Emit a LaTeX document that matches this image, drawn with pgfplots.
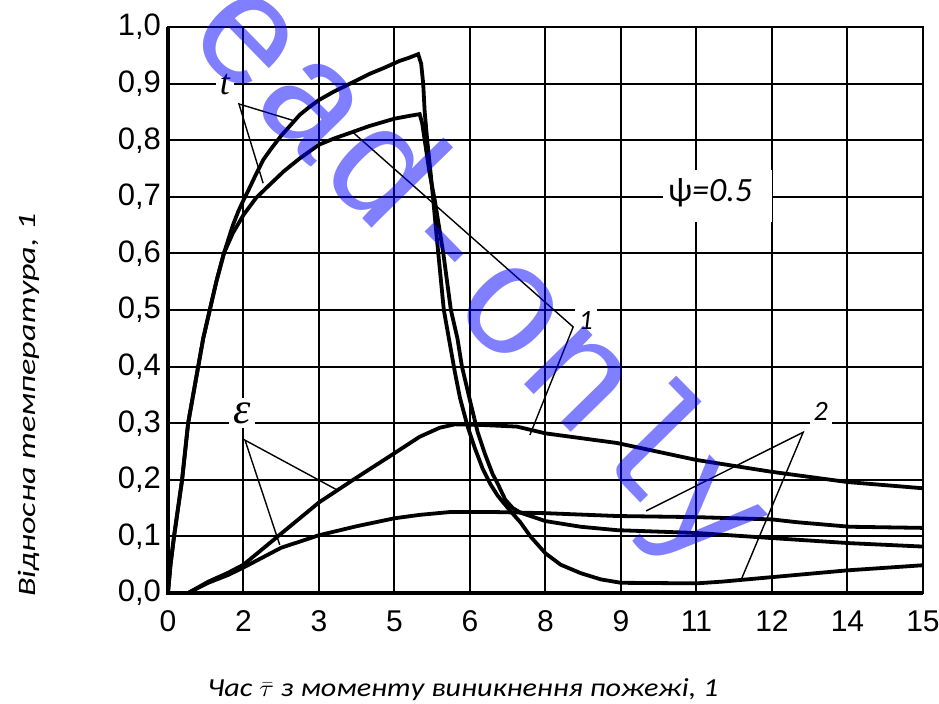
\documentclass[border=0pt]{standalone}
\usepackage{fontspec}
\setmainfont{Liberation Sans}
\newfontfamily\carlito{Carlito}
\newfontfamily\lserif{Liberation Serif}
\newfontfamily\lmono{Liberation Mono}
\usepackage{graphicx}
\usepackage{pgfplots}
\pgfplotsset{compat=1.18}

\begin{document}
\begin{tikzpicture}
\useasboundingbox (-84pt,-55.5pt) rectangle (385.5pt,296.5pt);
\begin{axis}[
  at={(0,0)}, anchor=south west,
  scale only axis, width=377.5pt, height=283pt,
  xmin=0, xmax=15, ymin=0, ymax=1,
  xtick={0,1.5,3,4.5,6,7.5,9,10.5,12,13.5,15},
  xticklabels={0,2,3,5,6,8,9,11,12,14,15},
  ytick={0,0.1,0.2,0.3,0.4,0.5,0.6,0.7,0.8,0.9,1},
  yticklabels={{0,0},{0,1},{0,2},{0,3},{0,4},{0,5},{0,6},{0,7},{0,8},{0,9},{1,0}},
  grid=major,
  major grid style={line width=1pt, black},
  major tick length=0pt,
  axis line style={line width=1.2pt},
  xticklabel style={font=\fontsize{15}{15}\selectfont, yshift=-5.5pt},
  yticklabel style={font=\fontsize{15.5}{15.5}\selectfont},
  clip mode=individual,
]
% t curve with peak 0.95 (set 2)
\addplot[black, line width=1.9pt] coordinates {
(0,0) (0.05,0.05) (0.12,0.1) (0.2,0.15) (0.28,0.2) (0.34,0.25) (0.4,0.3) (0.5,0.35) (0.6,0.4) (0.7,0.45) (0.83,0.5) (0.96,0.55) (1.11,0.6) (1.29,0.65) (1.4,0.675) (1.5,0.694) (1.6,0.712) (1.75,0.74) (1.89,0.765) (2.05,0.785) (2.25,0.808) (2.45,0.828) (2.62,0.845) (2.8,0.858) (3.0,0.871) (3.3,0.886) (3.62,0.90) (4.0,0.917) (4.3,0.928) (4.6,0.94) (4.8,0.946) (4.97,0.952) (5.03,0.935) (5.07,0.9) (5.1,0.85) (5.15,0.8) (5.22,0.74) (5.27,0.694) (5.37,0.6) (5.48,0.5) (5.6,0.44) (5.7,0.39) (5.8,0.345) (5.95,0.295) (6.1,0.255) (6.25,0.22) (6.4,0.193) (6.55,0.172) (6.66,0.16) (6.85,0.14) (7.0,0.125) (7.2,0.1) (7.5,0.07) (7.8,0.05) (8.2,0.035) (8.6,0.024) (9.0,0.018) (10.5,0.017) (11.0,0.02) (12.0,0.028) (13.5,0.04) (15,0.049)};
% t curve with peak 0.85 (set 1)
\addplot[black, line width=1.9pt] coordinates {
(0,0) (0.05,0.05) (0.12,0.1) (0.2,0.15) (0.28,0.2) (0.34,0.25) (0.4,0.3) (0.5,0.35) (0.6,0.4) (0.7,0.45) (0.83,0.5) (0.96,0.55) (1.11,0.6) (1.29,0.636) (1.5,0.668) (1.75,0.698) (1.97,0.717) (2.3,0.745) (2.62,0.768) (3.0,0.792) (3.3,0.803) (3.62,0.813) (4.0,0.825) (4.5,0.838) (4.8,0.843) (5.0,0.846) (5.05,0.83) (5.1,0.8) (5.2,0.74) (5.3,0.694) (5.47,0.6) (5.62,0.5) (5.75,0.45) (5.84,0.4) (6.0,0.34) (6.15,0.285) (6.3,0.245) (6.45,0.21) (6.54,0.195) (6.7,0.165) (6.85,0.15) (7.0,0.142) (7.5,0.127) (8.2,0.117) (8.92,0.111) (10.5,0.106) (12,0.097) (13.55,0.088) (15,0.082)};
% epsilon curve with peak 0.3 (set 1)
\addplot[black, line width=1.9pt] coordinates {
(0,0) (0.4,0) (0.8,0.02) (1.2,0.036) (1.5,0.05) (2.25,0.105) (3.0,0.16) (3.68,0.2) (4.5,0.247) (5.0,0.276) (5.4,0.292) (5.7,0.298) (6.2,0.297) (6.93,0.294) (7.5,0.282) (8.92,0.265) (10.5,0.235) (12,0.214) (13.5,0.196) (15,0.185)};
% epsilon curve with peak 0.14 (set 2)
\addplot[black, line width=1.9pt] coordinates {
(0,0) (0.4,0) (0.8,0.018) (1.2,0.032) (1.5,0.045) (2.25,0.08) (3.0,0.102) (3.75,0.118) (4.5,0.132) (5.0,0.138) (5.6,0.143) (6.5,0.143) (7.5,0.141) (8.92,0.136) (10.5,0.134) (12,0.13) (12.5,0.125) (13.55,0.117) (15,0.115)};
% leader lines
\addplot[black, line width=0.7pt] coordinates {(1.89,0.724) (1.41,0.864) (2.48,0.835)};
\addplot[black, line width=0.7pt] coordinates {(3.66,0.815) (8.05,0.47) (7.19,0.279)};
\addplot[black, line width=0.7pt] coordinates {(3.36,0.182) (1.53,0.27) (2.22,0.085)};
\addplot[black, line width=0.7pt] coordinates {(9.5,0.145) (12.62,0.284) (11.4,0.026)};
% labels
\node[fill=white, inner sep=2pt, font=\lserif\itshape\fontsize{18}{18}\selectfont] at (axis cs:1.13,0.898) {t};
\node[fill=white, inner sep=2pt, font=\lserif\itshape\fontsize{22}{22}\selectfont] at (axis cs:1.47,0.318) {ε};
\node[fill=white, inner sep=2pt, font=\carlito\itshape\fontsize{14}{14}\selectfont] at (axis cs:8.30,0.482) {1};
\node[fill=white, inner sep=2pt, font=\carlito\itshape\fontsize{14}{14}\selectfont] at (axis cs:12.97,0.32) {2};
\node[fill=white, minimum width=54.5pt, minimum height=26pt, inner sep=0pt] at (axis cs:10.92,0.701) {};
\node[inner sep=0pt, font=\carlito\fontsize{17}{17}\selectfont] at (axis cs:10.77,0.707) {ψ\textit{=0.5}};
\end{axis}
\draw[line width=1.8pt] (0,283pt) -- (0,0) -- (377.5pt,0);
\node[font=\carlito\itshape\fontsize{13}{13}\selectfont] at (147.5pt,-48.5pt) {\resizebox{255.5pt}{\height}{Час $\bar{\tau}$ з моменту виникнення пожежі, 1}};
\node[rotate=90, font=\carlito\itshape\fontsize{12.5}{12.5}\selectfont] at (-69.5pt,94pt) {\resizebox{192pt}{\height}{Відносна температура, 1}};
\node[rotate=-45.6, text=blue, opacity=0.5, font=\lmono\fontsize{79}{79}\selectfont] at (138pt,174.5pt) {read-only};
\end{tikzpicture}
\end{document}
